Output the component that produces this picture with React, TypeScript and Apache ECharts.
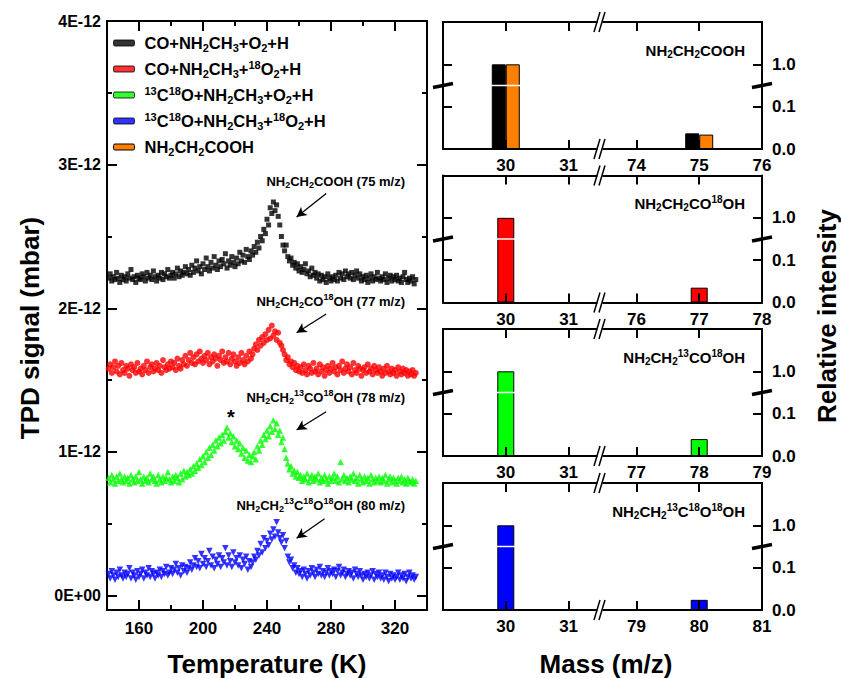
import React, { useEffect, useRef } from 'react';
import * as echarts from 'echarts';

const FONT = '"Liberation Sans", Arial, sans-serif';

// TPD traces: one point per kelvin, 141..333 K
const temperature = Array.from({ length: 193 }, (_, i) => 141 + i);

// TPD signal, in units of 1E-12 mbar
const tpdBlack = [
  2.21, 2.24, 2.19, 2.22, 2.2, 2.25, 2.21, 2.18, 2.23, 2.2,
  2.22, 2.19, 2.24, 2.21, 2.27, 2.2, 2.22, 2.18, 2.23, 2.21,
  2.2, 2.24, 2.22, 2.19, 2.25, 2.21, 2.23, 2.2, 2.26, 2.22,
  2.19, 2.23, 2.21, 2.25, 2.2, 2.24, 2.22, 2.27, 2.21, 2.23,
  2.25, 2.21, 2.24, 2.28, 2.22, 2.26, 2.23, 2.25, 2.29, 2.24,
  2.27, 2.23, 2.3, 2.25, 2.28, 2.33, 2.26, 2.29, 2.24, 2.31,
  2.27, 2.35, 2.29, 2.26, 2.32, 2.28, 2.36, 2.3, 2.27, 2.33,
  2.29, 2.34, 2.31, 2.38, 2.28, 2.33, 2.3, 2.36, 2.32, 2.29,
  2.35, 2.31, 2.39, 2.33, 2.37, 2.32, 2.41, 2.36, 2.34, 2.4,
  2.37, 2.43, 2.39, 2.46, 2.42, 2.5, 2.47, 2.55, 2.52, 2.62,
  2.58, 2.7, 2.66, 2.74, 2.68, 2.72, 2.64, 2.58, 2.5, 2.44,
  2.4, 2.44, 2.36, 2.33, 2.35, 2.3, 2.32, 2.28, 2.31, 2.26,
  2.29, 2.25, 2.27, 2.31, 2.24, 2.26, 2.22, 2.28, 2.23, 2.25,
  2.21, 2.24, 2.19, 2.23, 2.2, 2.22, 2.18, 2.24, 2.21, 2.19,
  2.22, 2.2, 2.23, 2.19, 2.25, 2.21, 2.24, 2.2, 2.26, 2.22,
  2.24, 2.21, 2.25, 2.2, 2.23, 2.26, 2.21, 2.24, 2.19, 2.22,
  2.2, 2.23, 2.18, 2.21, 2.24, 2.19, 2.22, 2.2, 2.25, 2.21,
  2.19, 2.22, 2.2, 2.24, 2.18, 2.21, 2.23, 2.19, 2.22, 2.2,
  2.23, 2.19, 2.21, 2.18, 2.22, 2.25, 2.2, 2.18, 2.21, 2.19,
  2.22, 2.17, 2.2,
];
const tpdRed = [
  1.58, 1.61, 1.55, 1.59, 1.63, 1.56, 1.6, 1.54, 1.62, 1.57,
  1.55, 1.6, 1.58, 1.53, 1.61, 1.57, 1.59, 1.55, 1.62, 1.56,
  1.58, 1.54, 1.6, 1.57, 1.63, 1.55, 1.59, 1.61, 1.56, 1.58,
  1.62, 1.57, 1.6, 1.55, 1.64, 1.59, 1.57, 1.61, 1.58, 1.63,
  1.59, 1.62, 1.57, 1.65, 1.6, 1.58, 1.64, 1.61, 1.67, 1.6,
  1.64, 1.69, 1.62, 1.66, 1.61, 1.68, 1.63, 1.7, 1.65, 1.62,
  1.67, 1.64, 1.69, 1.61, 1.66, 1.63, 1.68, 1.65, 1.6, 1.67,
  1.64, 1.7, 1.62, 1.66, 1.63, 1.69, 1.61, 1.65, 1.68, 1.63,
  1.6, 1.66, 1.62, 1.69, 1.64, 1.61, 1.67, 1.63, 1.7, 1.65,
  1.68, 1.72, 1.75, 1.71, 1.78, 1.74, 1.8, 1.76, 1.82, 1.78,
  1.85, 1.79, 1.88, 1.81, 1.84, 1.78, 1.83, 1.76, 1.74, 1.71,
  1.68, 1.64, 1.66, 1.61, 1.63, 1.59, 1.62, 1.57, 1.6, 1.56,
  1.59, 1.55, 1.61, 1.57, 1.54, 1.6, 1.58, 1.55, 1.62, 1.56,
  1.58, 1.54, 1.61, 1.56, 1.59, 1.53, 1.57, 1.6, 1.55, 1.58,
  1.62, 1.56, 1.59, 1.54, 1.6, 1.57, 1.63, 1.55, 1.58, 1.61,
  1.56, 1.59, 1.54, 1.62, 1.57, 1.55, 1.6, 1.58, 1.53, 1.57,
  1.59, 1.55, 1.61, 1.56, 1.58, 1.54, 1.6, 1.57, 1.55, 1.59,
  1.56, 1.53, 1.58, 1.55, 1.6, 1.56, 1.54, 1.58, 1.55, 1.57,
  1.53, 1.59, 1.56, 1.54, 1.58, 1.55, 1.57, 1.53, 1.56, 1.54,
  1.57, 1.53, 1.55,
];
const tpdGreen = [
  0.82, 0.79, 0.84, 0.81, 0.78, 0.83, 0.8, 0.85, 0.81, 0.79,
  0.83, 0.8, 0.82, 0.78, 0.84, 0.81, 0.79, 0.83, 0.8, 0.86,
  0.81, 0.78, 0.83, 0.8, 0.82, 0.79, 0.85, 0.81, 0.83, 0.8,
  0.78, 0.84, 0.81, 0.79, 0.83, 0.8, 0.82, 0.86, 0.81, 0.79,
  0.83, 0.8, 0.84, 0.82, 0.79, 0.85, 0.81, 0.87, 0.83, 0.86,
  0.84, 0.88, 0.85, 0.9, 0.87, 0.92, 0.89, 0.95, 0.91, 0.97,
  0.93, 1.0, 0.96, 1.03, 0.98, 1.05, 1.01, 1.08, 1.04, 1.1,
  1.06, 1.12, 1.08, 1.14, 1.17, 1.1, 1.13, 1.07, 1.11, 1.04,
  1.08, 1.02, 1.06, 0.99, 1.03, 0.96, 1.01, 0.94, 0.98, 0.93,
  0.97, 1.0, 0.95, 1.04, 1.01, 1.08, 1.05, 1.12, 1.09, 1.15,
  1.11, 1.18, 1.14, 1.22, 1.16, 1.2, 1.12, 1.15, 1.07, 1.1,
  1.02, 0.96, 0.92, 0.88, 0.9, 0.85, 0.87, 0.83, 0.86, 0.82,
  0.84, 0.8, 0.83, 0.81, 0.85, 0.79, 0.82, 0.84, 0.8, 0.83,
  0.81, 0.85, 0.79, 0.82, 0.8, 0.84, 0.81, 0.78, 0.83, 0.8,
  0.82, 0.85, 0.8, 0.83, 0.79, 0.93, 0.81, 0.84, 0.8, 0.82,
  0.79, 0.83, 0.81, 0.85, 0.8, 0.82, 0.78, 0.84, 0.81, 0.79,
  0.83, 0.8, 0.82, 0.78, 0.84, 0.81, 0.79, 0.82, 0.8, 0.83,
  0.79, 0.82, 0.8, 0.84, 0.78, 0.81, 0.83, 0.79, 0.82, 0.8,
  0.78, 0.82, 0.8, 0.83, 0.79, 0.81, 0.78, 0.82, 0.8, 0.79,
  0.81, 0.78, 0.8,
];
const tpdBlue = [
  0.15, 0.12, 0.17, 0.14, 0.11, 0.16, 0.13, 0.18, 0.14, 0.12,
  0.16, 0.13, 0.15, 0.19, 0.12, 0.16, 0.14, 0.11, 0.17, 0.13,
  0.15, 0.18, 0.12, 0.16, 0.14, 0.19, 0.13, 0.17, 0.15, 0.12,
  0.16, 0.14, 0.18, 0.13, 0.17, 0.15, 0.2, 0.14, 0.16, 0.19,
  0.15, 0.18, 0.22, 0.16, 0.19, 0.14, 0.21, 0.17, 0.2, 0.16,
  0.19, 0.23, 0.18, 0.21, 0.26, 0.2, 0.24, 0.19, 0.29, 0.22,
  0.26, 0.2, 0.24, 0.31, 0.21, 0.27, 0.19, 0.25, 0.22, 0.28,
  0.2, 0.26, 0.23, 0.33, 0.21, 0.28, 0.24, 0.2, 0.3, 0.23,
  0.26, 0.21, 0.28, 0.19, 0.25, 0.22, 0.27, 0.18, 0.24, 0.2,
  0.23, 0.27, 0.25, 0.31, 0.28, 0.36, 0.3, 0.4, 0.33, 0.38,
  0.35, 0.43, 0.39, 0.46, 0.41, 0.51, 0.44, 0.4, 0.37, 0.42,
  0.33, 0.38, 0.27, 0.23, 0.25, 0.19, 0.21, 0.16, 0.19, 0.15,
  0.17, 0.13, 0.18, 0.15, 0.12, 0.17, 0.14, 0.19, 0.16, 0.13,
  0.18, 0.15, 0.2, 0.14, 0.17, 0.13, 0.16, 0.19, 0.14, 0.17,
  0.15, 0.18, 0.13, 0.17, 0.2, 0.14, 0.16, 0.18, 0.13, 0.15,
  0.17, 0.14, 0.16, 0.12, 0.18, 0.15, 0.13, 0.17, 0.14, 0.11,
  0.15, 0.13, 0.16, 0.12, 0.14, 0.17, 0.11, 0.15, 0.13, 0.16,
  0.12, 0.14, 0.11, 0.16, 0.13, 0.1, 0.15, 0.12, 0.14, 0.11,
  0.13, 0.16, 0.11, 0.14, 0.12, 0.15, 0.1, 0.13, 0.16, 0.12,
  0.14, 0.11, 0.13,
];

const seriesNames = [
  'CO+NH2CH3+O2+H',
  'CO+NH2CH3+18O2+H',
  '13C18O+NH2CH3+O2+H',
  '13C18O+NH2CH3+18O2+H',
  'NH2CH2COOH',
];
const seriesRich = [
  'CO+NH{s|2}CH{s|3}+O{s|2}+H',
  'CO+NH{s|2}CH{s|3}+{p|18}O{s|2}+H',
  '{p|13}C{p|18}O+NH{s|2}CH{s|3}+O{s|2}+H',
  '{p|13}C{p|18}O+NH{s|2}CH{s|3}+{p|18}O{s|2}+H',
  'NH{s|2}CH{s|2}COOH',
];
const seriesColors = ['#000000', '#ff0000', '#00ff00', '#0000ff', '#ff8000'];

const tempLabels = [160, 200, 240, 280, 320];
const tempMinor = [180, 220, 260, 300];
const signalLabels = [0, 1, 2, 3, 4];
const signalMinor = [0.5, 1.5, 2.5, 3.5];

const traceLabels = [
  'NH{s|2}CH{s|2}COOH (75 m/z)',
  'NH{s|2}CH{s|2}CO{p|18}OH (77 m/z)',
  'NH{s|2}CH{s|2}{p|13}CO{p|18}OH (78 m/z)',
  'NH{s|2}CH{s|2}{p|13}C{p|18}O{p|18}OH (80 m/z)',
];
// arrows, in data units (K, 1E-12 mbar)
const arrowFrom = [[277, 2.8], [277, 1.96], [277, 1.28], [276, 0.535]];
const arrowTo = [[258.5, 2.635], [258.5, 1.83], [258.5, 1.153], [258.5, 0.4]];

// mass spectra
const lowMass = [30, 31];
const highMass = [[74, 75, 76], [76, 77, 78], [77, 78, 79], [79, 80, 81]];
const peakMass = [75, 77, 78, 80];
const barBlack = [1.0, 0.037];
const barOrange = [1.0, 0.034];
const barRed = [1.0, 0.035];
const barGreen = [1.0, 0.04];
const barBlue = [1.0, 0.024];
const intensityTicks = [0, 0.1, 1.0];
const panelTitles = [
  'NH{s|2}CH{s|2}COOH',
  'NH{s|2}CH{s|2}CO{p|18}OH',
  'NH{s|2}CH{s|2}{p|13}CO{p|18}OH',
  'NH{s|2}CH{s|2}{p|13}C{p|18}O{p|18}OH',
];

const X_GAP = 1.08;
const X_MAX = 2 + X_GAP + 2;
const xVirtual = (m: number, hi0: number) => (m <= 31 ? m - 29 : m - hi0 + 2 + X_GAP);
const yVirtual = (r: number) => (r <= 0.15 ? r * 10 : 1.5 + ((r - 0.15) / 0.85) * 0.5);

const panelTops = [22, 175.5, 329, 483];
const PANEL_H = 127;
const PANEL_LEFT = 443;
const PANEL_W = 319;

const richStyles = (small: number) => ({
  s: { fontSize: small, fontWeight: 'bold', fontFamily: FONT, color: '#000', verticalAlign: 'bottom', lineHeight: small },
  p: { fontSize: small, fontWeight: 'bold', fontFamily: FONT, color: '#000', verticalAlign: 'top', lineHeight: small },
});

const lineStyle = { color: '#000', width: 2 };

function mkAxis(o: any) {
  return {
    gridIndex: o.grid,
    type: 'value',
    position: o.pos,
    min: o.min,
    max: o.max,
    z: o.z ?? 0,
    axisLine: { show: o.line, onZero: false, lineStyle },
    axisTick: o.ticks.length
      ? { show: true, inside: true, length: o.len, customValues: o.ticks, lineStyle }
      : { show: false },
    axisLabel: o.labels
      ? {
          show: true,
          customValues: o.labels,
          formatter: o.fmt,
          margin: o.margin,
          fontSize: o.fontSize,
          fontWeight: 'bold',
          fontFamily: FONT,
          color: '#000',
        }
      : { show: false },
    splitLine: { show: false },
  };
}

function App() {
  const chartRef = useRef<HTMLDivElement>(null);

  useEffect(() => {
    if (!chartRef.current) return undefined;
    const chart = echarts.init(chartRef.current, null, { renderer: 'svg' });

    const grids: any[] = [{ left: 107, top: 21, width: 320, height: 589 }];
    const xAxes: any[] = [
      mkAxis({ grid: 0, pos: 'bottom', min: 140, max: 340, ticks: tempLabels, len: 10, line: true, labels: tempLabels, fmt: (v: number) => String(v), fontSize: 17, margin: 10 }),
      mkAxis({ grid: 0, pos: 'bottom', min: 140, max: 340, ticks: tempMinor, len: 5, line: false }),
      mkAxis({ grid: 0, pos: 'top', min: 140, max: 340, ticks: tempLabels, len: 10, line: true }),
      mkAxis({ grid: 0, pos: 'top', min: 140, max: 340, ticks: tempMinor, len: 5, line: false }),
    ];
    const yAxes: any[] = [
      mkAxis({ grid: 0, pos: 'left', min: -0.1, max: 4, ticks: signalLabels, len: 10, line: true, labels: signalLabels, fmt: (v: number) => (v === 0 ? '0E+00' : `${v}E-12`), fontSize: 16, margin: 6 }),
      mkAxis({ grid: 0, pos: 'left', min: -0.1, max: 4, ticks: signalMinor, len: 5, line: false }),
      mkAxis({ grid: 0, pos: 'right', min: -0.1, max: 4, ticks: signalLabels, len: 10, line: true }),
      mkAxis({ grid: 0, pos: 'right', min: -0.1, max: 4, ticks: signalMinor, len: 5, line: false }),
    ];

    const tpd = [tpdBlack, tpdRed, tpdGreen, tpdBlue];
    const symbols = ['rect', 'circle', 'triangle', 'triangle'];
    const sizes = [5, 6, 6.5, 6.5];
    const series: any[] = tpd.map((vals, i) => ({
      name: seriesNames[i],
      type: 'scatter',
      xAxisIndex: 0,
      yAxisIndex: 0,
      symbol: symbols[i],
      symbolSize: sizes[i],
      symbolRotate: i === 3 ? 180 : 0,
      itemStyle: { color: seriesColors[i] },
      data: vals.map((v, k) => [temperature[k], v]),
      markLine: {
        silent: true,
        symbol: ['none', 'arrow'],
        symbolSize: [8, 10],
        label: { show: false },
        lineStyle: { color: '#000', width: 1.3, type: 'solid' },
        data: [[{ coord: arrowFrom[i] }, { coord: arrowTo[i] }]],
      },
    }));

    const panelBars = [
      [{ vals: barBlack, color: seriesColors[0], name: seriesNames[0] }, { vals: barOrange, color: seriesColors[4], name: seriesNames[4] }],
      [{ vals: barRed, color: seriesColors[1], name: seriesNames[1] }],
      [{ vals: barGreen, color: seriesColors[2], name: seriesNames[2] }],
      [{ vals: barBlue, color: seriesColors[3], name: seriesNames[3] }],
    ];
    const panelSeriesIndex: number[] = [];

    panelTops.forEach((top, p) => {
      const g = p + 1;
      grids.push({ left: PANEL_LEFT, top, width: PANEL_W, height: PANEL_H });
      const hi = highMass[p];
      const xTicks = [...lowMass, hi[0], hi[1]].map((m) => xVirtual(m, hi[0]));
      const xLabels = [...lowMass, ...hi].map((m) => xVirtual(m, hi[0]));
      const xFmt = (v: number) => String(Math.round(v <= 2.5 ? v + 29 : v - 2 - X_GAP + hi[0]));
      const yLabels = intensityTicks.map(yVirtual);
      const yFmt = (v: number) => {
        const k = yLabels.findIndex((t) => Math.abs(t - v) < 1e-6);
        return k >= 0 ? intensityTicks[k].toFixed(1) : '';
      };
      const xi = xAxes.length;
      const yi = yAxes.length;
      xAxes.push(
        mkAxis({ grid: g, pos: 'bottom', min: 0, max: X_MAX, ticks: xTicks, len: 9, line: true, labels: xLabels, fmt: xFmt, fontSize: 17, margin: 8, z: 3 }),
        mkAxis({ grid: g, pos: 'top', min: 0, max: X_MAX, ticks: xTicks, len: 9, line: true, z: 3 }),
      );
      yAxes.push(
        mkAxis({ grid: g, pos: 'right', min: 0, max: 3, ticks: [1, 2], len: 9, line: true, labels: yLabels, fmt: yFmt, fontSize: 17, margin: 10, z: 3 }),
        mkAxis({ grid: g, pos: 'left', min: 0, max: 3, ticks: [1, 2], len: 9, line: true, z: 3 }),
      );
      panelSeriesIndex.push(series.length);
      panelBars[p].forEach((b) => {
        series.push({
          name: b.name,
          type: 'bar',
          xAxisIndex: xi,
          yAxisIndex: yi,
          barWidth: panelBars[p].length > 1 ? 14 : 17,
          barGap: '0%',
          itemStyle: { color: b.color, borderColor: '#000', borderWidth: 1 },
          data: [lowMass[0], peakMass[p]].map((m, k) => [xVirtual(m, hi[0]), yVirtual(b.vals[k])]),
        });
      });
    });

    const options: any = {
      animation: false,
      grid: grids,
      xAxis: xAxes,
      yAxis: yAxes,
      series,
      legend: {
        orient: 'vertical',
        left: 113,
        top: 33,
        padding: 0,
        itemWidth: 21,
        itemHeight: 6,
        itemGap: 6,
        selectedMode: false,
        icon: 'roundRect',
        data: seriesNames.map((n, i) => ({
          name: n,
          icon: 'roundRect',
          itemStyle: { color: seriesColors[i], borderColor: '#000', borderWidth: 1 },
        })),
        formatter: (n: string) => seriesRich[seriesNames.indexOf(n)],
        textStyle: {
          fontSize: 16.5,
          fontWeight: 'bold',
          fontFamily: FONT,
          color: '#000',
          lineHeight: 20,
          padding: [0, 0, 0, 5],
          rich: richStyles(11),
        },
      },
    };
    chart.setOption(options);

    // break marks, white gap in bars, texts
    const graphic: any[] = [];
    const black = { stroke: '#000', lineWidth: 1.5 };
    panelSeriesIndex.forEach((si, p) => {
      const [xl, yb] = chart.convertToPixel({ seriesIndex: si }, [0, 1.5]) as number[];
      const [xr] = chart.convertToPixel({ seriesIndex: si }, [X_MAX, 1.5]) as number[];
      const [xm, ybot] = chart.convertToPixel({ seriesIndex: si }, [2.5, 0]) as number[];
      const [, ytop] = chart.convertToPixel({ seriesIndex: si }, [2.5, 3]) as number[];
      graphic.push({ type: 'line', z: 50, shape: { x1: xl + 1.5, y1: yb, x2: xr - 1.5, y2: yb }, style: { stroke: '#fff', lineWidth: 1.5 } });
      [xl, xr].forEach((x) => {
        graphic.push({ type: 'line', z: 51, shape: { x1: x - 10, y1: yb + 2, x2: x + 10, y2: yb - 2 }, style: { stroke: '#000', lineWidth: 3.5 } });
      });
      [ybot, ytop].forEach((y) => {
        graphic.push({ type: 'line', z: 51, shape: { x1: xm - 2.5, y1: y, x2: xm + 2.5, y2: y }, style: { stroke: '#fff', lineWidth: 4 } });
        graphic.push({ type: 'line', z: 52, shape: { x1: xm - 6, y1: y + 10, x2: xm, y2: y - 10 }, style: black });
        graphic.push({ type: 'line', z: 52, shape: { x1: xm - 1, y1: y + 10, x2: xm + 5, y2: y - 10 }, style: black });
      });
      graphic.push({
        type: 'text',
        z: 53,
        x: 745,
        y: panelTops[p] + 28,
        style: {
          text: panelTitles[p],
          fill: '#000',
          fontSize: 15,
          fontWeight: 'bold',
          fontFamily: FONT,
          lineHeight: 18,
          align: 'right',
          verticalAlign: 'middle',
          rich: richStyles(10),
        },
      });
    });

    const traceY = [181, 301, 397, 505];
    traceLabels.forEach((t, i) => {
      graphic.push({
        type: 'text',
        z: 53,
        x: 405,
        y: traceY[i],
        style: {
          text: t,
          fill: '#000',
          fontSize: 13,
          fontWeight: 'bold',
          fontFamily: FONT,
          lineHeight: 17,
          align: 'right',
          verticalAlign: 'middle',
          rich: richStyles(9),
        },
      });
    });
    graphic.push({ type: 'text', z: 53, x: 231, y: 417, style: { text: '*', fill: '#000', fontSize: 20, fontWeight: 'bold', fontFamily: FONT, align: 'center', verticalAlign: 'middle' } });

    const titleStyle = { fill: '#000', fontSize: 26, fontWeight: 'bold', fontFamily: FONT, align: 'center', verticalAlign: 'middle' };
    graphic.push(
      { type: 'text', z: 53, x: 267, y: 664, style: { ...titleStyle, text: 'Temperature (K)' } },
      { type: 'text', z: 53, x: 606, y: 664, style: { ...titleStyle, text: 'Mass (m/z)' } },
      { type: 'text', z: 53, x: 30, y: 328, rotation: Math.PI / 2, style: { ...titleStyle, text: 'TPD signal (mbar)' } },
      { type: 'text', z: 53, x: 827, y: 316, rotation: Math.PI / 2, style: { ...titleStyle, text: 'Relative intensity' } },
    );
    chart.setOption({ graphic });

    return () => {
      chart.dispose();
    };
  }, []);

  return <div ref={chartRef} style={{ position: 'absolute', left: 0, top: 0, width: 841, height: 678 }} />;
}

export default App;
